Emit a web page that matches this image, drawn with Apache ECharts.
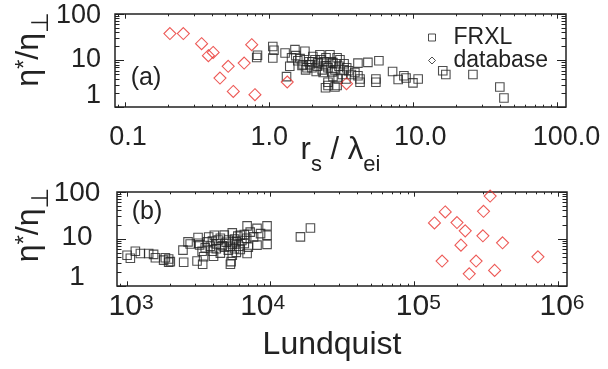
<!DOCTYPE html>
<html><head><meta charset="utf-8">
<script src="https://cdn.jsdelivr.net/npm/echarts@6/dist/echarts.min.js"></script>
<style>html,body{margin:0;padding:0;background:#fff}#c{width:608px;height:369px}</style>
</head><body><div id="c"></div>
<script>
// ---------- data ----------
// panel (a): x = r_s / lambda_ei, y = eta*/eta_perp
const frxlA = [
 [0.82,11.6],[0.83,13.0],[1.06,20.0],[1.08,16.6],[1.06,11.3],[1.29,14.5],[1.32,4.5],[1.39,7.5],
 [1.43,11.5],[1.51,17.1],[1.53,12.7],[1.58,9.9],[1.72,8.1],[1.77,15.8],[1.83,7.0],[1.89,9.4],
 [1.92,8.1],[2.01,12.2],[2.08,10.4],[2.15,7.5],[2.25,13.3],[2.33,6.3],[2.40,9.4],[2.48,11.5],
 [2.56,7.0],[2.64,13.3],[2.69,9.4],[2.77,9.0],[2.86,6.3],[2.96,11.5],[3.05,7.5],[3.10,10.4],
 [3.22,5.0],[3.31,8.5],[3.45,7.0],[3.56,6.0],[3.72,5.0],[3.93,5.5],[2.56,2.9],[2.96,2.9],
 [2.56,3.4],[2.77,4.5],[2.37,5.5],[2.12,5.8],[1.79,6.3],[2.19,9.0],[1.98,7.0],[2.29,10.4],
 [2.48,7.7],[2.73,5.7],[2.91,8.5],[3.31,6.3],[3.41,4.0],[3.01,4.0],[1.98,9.4],[1.64,11.0],
 [1.69,7.8],[4.13,8.8],[4.84,9.1],[5.77,9.9],[4.27,4.0],[4.27,3.4],[5.5,4.0],[5.5,3.4],
 [4.13,4.7],[7.18,5.8],[7.85,3.9],[8.6,4.7],[8.9,4.2],[9.94,3.3],[10.8,4.0],[16.0,6.0],
 [16.8,5.0],[25.9,5.0],[39.8,2.7],[42.5,1.56],[2.86,2.7],[2.46,2.6]
];
const dbA = [
 [0.205,38],[0.254,38],[0.34,23],[0.409,14.9],[0.379,12.7],[0.52,7.5],[0.456,4.2],
 [0.671,8.8],[0.564,2.16],[0.757,21.9],[0.797,1.84],[1.335,3.45],[3.44,3.17]
];
// panel (b): x = Lundquist number, y = eta*/eta_perp
const frxlB = [
 [1000,4.5],[1054,3.9],[1142,5.5],[1238,4.9],[1414,4.9],[1530,4.7],[1575,4.0],[1797,3.55],
 [1948,3.75],[1948,3.2],[2000,3.3],[1848,4.0],[2478,3.2],[2450,5.8],[2657,8.7],[2750,7.8],
 [3070,3.4],[3120,10.8],[3150,8.1],[3330,5.5],[3410,4.2],[3360,2.9],[3620,8.7],[3700,11],
 [3800,7],[3930,9],[3930,5.5],[4050,12],[4180,7.8],[4180,6.2],[4300,9.5],[4460,5],
 [4460,10.4],[4600,7.2],[4750,6.7],[4750,12.1],[4900,8.5],[5070,5.8],[5070,9.5],[5200,7],
 [5400,4.5],[5400,13.5],[5400,7.8],[5600,6.2],[5600,10],[5760,8.7],[5760,5.2],[5900,11.5],
 [6000,7],[6140,12],[6140,6],[6300,9.3],[6550,8],[6550,12.5],[6800,10.4],[6980,6.7],
 [5240,2.9],[5300,3.3],[4000,4.3],[3500,6.5],[3200,7.5],[6850,19],[8030,16.8],[9430,19],
 [9430,12],[9430,7.7],[8030,7.4],[6850,4.9],[7600,11.1],[7200,14],[8500,13],
 [16100,11.1],[18900,17.2]
];
const dbB = [
 [337000,82],[164000,37.7],[303000,38.9],[138000,22],[198000,22.4],[226000,14.9],
 [300000,11.7],[211000,7.4],[411000,8.3],[725000,4.18],[156000,3.39],[269000,3.39],
 [241000,1.82],[362000,2.15]
];
// ticks
const xMajorA = [0.1, 1, 10, 100];
const xMinorA = [0.09,0.2,0.3,0.4,0.5,0.6,0.7,0.8,0.9,2,3,4,5,6,7,8,9,20,30,40,50,60,70,80,90];
const xLabelsA = ['0.1', '1.0', '10.0', '100.0'];
const xMajorB = [1e3, 1e4, 1e5, 1e6];
const xMinorB = [900,2000,3000,4000,5000,6000,7000,8000,9000,2e4,3e4,4e4,5e4,6e4,7e4,8e4,9e4,2e5,3e5,4e5,5e5,6e5,7e5,8e5,9e5];
const xExpB = ['3', '4', '5', '6'];
const yMajor = [1, 10, 100];
const yMinor = [2,3,4,5,6,7,8,9,20,30,40,50,60,70,80,90];
const yLabels = ['1', '10', '100'];

// ---------- style ----------
const FONT = "'Liberation Sans', Arial, Helvetica, 'DejaVu Sans', sans-serif";
const INK = '#222';
const RED = '#e8302c';

function axis(gridIndex, position, min, max, ticks, len, extra) {
  return Object.assign({
    type: 'log', logBase: 10, gridIndex, position, min, max,
    axisLine: {show: false},
    axisTick: {show: true, inside: true, length: len, customValues: ticks, lineStyle: {color: INK, width: 1}},
    axisLabel: {show: false},
    splitLine: {show: false},
    minorTick: {show: false}, minorSplitLine: {show: false},
    axisPointer: {show: false},
    nameMoveOverlap: false
  }, extra || {});
}
const ex = v => Math.round(Math.log10(v));

const xA = [0.0853, 114.5], xB = [851, 1.155e6], yR = [1, 100];

const yTitle = '{a|η}{sup|*}{a|/η}{sub|⊥}';
const yTitleRich = {
  a: {fontSize: 32, lineHeight: 36, verticalAlign: 'top', fontFamily: FONT, color: INK},
  sup: {fontSize: 24, lineHeight: 24, verticalAlign: 'top', fontFamily: FONT, color: INK},
  sub: {fontSize: 24, lineHeight: 24, verticalAlign: 'top', padding: [16, 0, 0, 0], fontFamily: FONT, color: INK}
};

const xAxes = [
  axis(0, 'bottom', xA[0], xA[1], xMajorA, 4.7, {
    axisLabel: {show: true, customValues: xMajorA, margin: 17, fontSize: 27, fontFamily: FONT, color: INK,
      formatter: v => { const i = ex(v) + 1; const t = xLabelsA[i]; return ['{p3|', '{p0|', '{p7|', '{p9|'][i] + t + '}'; },
      rich: {p0: {}, p3: {padding: [0, 0, 0, 6]}, p7: {padding: [0, 0, 0, 14]}, p9: {padding: [0, 0, 0, 18]}}},
    name: '{t|r}{sub|s}{t| / λ}{sub|ei}', nameLocation: 'middle', nameGap: 28,
    nameTextStyle: {fontSize: 31, fontFamily: FONT, color: INK, rich: {
      t: {fontSize: 31, lineHeight: 34, verticalAlign: 'top', fontFamily: FONT, color: INK},
      sub: {fontSize: 22, lineHeight: 22, verticalAlign: 'top', padding: [19, 0, 0, 0], fontFamily: FONT, color: INK}}}
  }),
  axis(0, 'bottom', xA[0], xA[1], xMinorA, 2.3),
  axis(0, 'top', xA[0], xA[1], xMajorA, 4.7),
  axis(0, 'top', xA[0], xA[1], xMinorA, 2.3),
  axis(1, 'bottom', xB[0], xB[1], xMajorB, 4.7, {
    axisLabel: {show: true, customValues: xMajorB, margin: 6, fontSize: 30, fontFamily: FONT, color: INK,
      formatter: v => { const i = ex(v) - 3; const e = xExpB[i]; return (i === 1 ? '{b|10}{sr|' : '{bp|10}{s|') + e + '}'; },
      rich: {
        b: {fontSize: 30, lineHeight: 32, verticalAlign: 'top'},
        bp: {fontSize: 30, lineHeight: 32, verticalAlign: 'top', padding: [0, 0, 0, 8]},
        s: {fontSize: 21, lineHeight: 21, verticalAlign: 'top', padding: [1, 0, 0, 0]},
        sr: {fontSize: 21, lineHeight: 21, verticalAlign: 'top', padding: [1, 16, 0, 0]}
      }},
    name: 'Lundquist', nameLocation: 'middle', nameGap: 43,
    nameTextStyle: {fontSize: 32, fontFamily: FONT, color: INK, padding: [0, 20, 0, 0]}
  }),
  axis(1, 'bottom', xB[0], xB[1], xMinorB, 2.3),
  axis(1, 'top', xB[0], xB[1], xMajorB, 4.7),
  axis(1, 'top', xB[0], xB[1], xMinorB, 2.3)
];

const yAxes = [
  axis(0, 'left', yR[0], yR[1], yMajor, 9, {
    axisLabel: {show: true, customValues: yMajor, margin: 14, fontSize: 27, fontFamily: FONT, color: INK,
      formatter: v => { const i = ex(v); return ['{one|', '{ten|', '{hun|'][i] + yLabels[i] + '}'; },
      rich: {one: {padding: [0, 0, 22, 0]}, ten: {padding: [0, 0, 2, 0]}, hun: {padding: [4, 0, 0, 0]}}},
    name: yTitle, nameLocation: 'middle', nameGap: 66, nameRotate: 90,
    nameTextStyle: {fontSize: 32, fontFamily: FONT, color: INK, padding: [0, 0, 0, 22], rich: yTitleRich}
  }),
  axis(0, 'left', yR[0], yR[1], yMinor, 4.5),
  axis(0, 'right', yR[0], yR[1], yMajor, 9),
  axis(0, 'right', yR[0], yR[1], yMinor, 4.5),
  axis(1, 'left', yR[0], yR[1], yMajor, 9, {
    axisLabel: {show: true, customValues: yMajor, margin: 40, align: 'center', fontSize: 28, fontFamily: FONT, color: INK,
      formatter: v => { const i = ex(v); return ['{one|', '{ten|', '{hun|'][i] + yLabels[i] + '}'; },
      rich: {one: {padding: [0, 0, 18, 0]}, ten: {padding: [0, 0, 4, 0]}, hun: {padding: [2, 0, 0, 0]}}},
    name: yTitle, nameLocation: 'middle', nameGap: 68, nameRotate: 90,
    nameTextStyle: {fontSize: 32, fontFamily: FONT, color: INK, padding: [0, 0, 0, 28], rich: yTitleRich}
  }),
  axis(1, 'left', yR[0], yR[1], yMinor, 4.5),
  axis(1, 'right', yR[0], yR[1], yMajor, 9),
  axis(1, 'right', yR[0], yR[1], yMinor, 4.5)
];

const sq = {symbol: 'rect', symbolSize: 8.5, itemStyle: {color: 'transparent', borderColor: INK, borderWidth: 1.1}};
const dm = {symbol: 'diamond', symbolSize: 12, itemStyle: {color: 'transparent', borderColor: RED, borderWidth: 1.1}};

const option = {
  animation: false,
  backgroundColor: '#fff',
  grid: [
    {left: 115, top: 14, width: 451, height: 93, show: true, borderColor: INK, borderWidth: 1.5, outerBoundsMode: 'none'},
    {left: 117, top: 192, width: 450, height: 94, show: true, borderColor: INK, borderWidth: 1.5, outerBoundsMode: 'none'}
  ],
  xAxis: xAxes,
  yAxis: yAxes,
  legend: {
    orient: 'vertical', left: 423, top: 21, itemWidth: 7, itemHeight: 7, itemGap: 0, selectedMode: false,
    textStyle: {fontSize: 23, fontFamily: FONT, color: INK, lineHeight: 21, padding: [0, 0, 0, 13]},
    data: [
      {name: 'FRXL', icon: 'rect', itemStyle: {color: 'transparent', borderColor: INK, borderWidth: 1}},
      {name: 'database', icon: 'diamond', itemStyle: {color: 'transparent', borderColor: INK, borderWidth: 1}}
    ]
  },
  graphic: [
    {type: 'text', style: {x: 146, y: 78, text: '(a)', fontSize: 25, fontFamily: FONT, fill: INK, align: 'center', verticalAlign: 'middle'}},
    {type: 'text', style: {x: 147, y: 212, text: '(b)', fontSize: 25, fontFamily: FONT, fill: INK, align: 'center', verticalAlign: 'middle'}}
  ],
  series: [
    Object.assign({type: 'scatter', name: 'FRXL', xAxisIndex: 0, yAxisIndex: 0, data: frxlA}, sq),
    Object.assign({type: 'scatter', name: 'database', xAxisIndex: 0, yAxisIndex: 0, data: dbA}, dm),
    Object.assign({type: 'scatter', name: 'FRXL', xAxisIndex: 4, yAxisIndex: 4, data: frxlB}, sq),
    Object.assign({type: 'scatter', name: 'database', xAxisIndex: 4, yAxisIndex: 4, data: dbB}, dm)
  ]
};
const chart = echarts.init(document.getElementById('c'));
chart.setOption(option);
</script>
</body></html>
